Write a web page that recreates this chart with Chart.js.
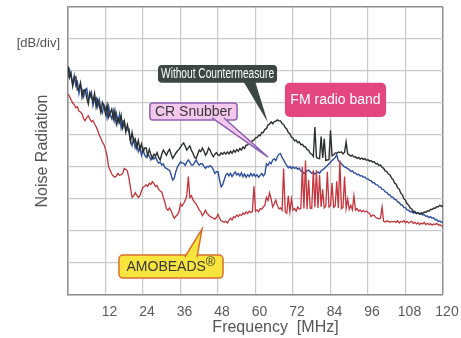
<!DOCTYPE html>
<html>
<head>
<meta charset="utf-8">
<script src="https://cdn.jsdelivr.net/npm/chart.js@4.4.1/dist/chart.umd.min.js"></script>
<style>
  html, body { margin: 0; padding: 0; background: #fff; }
  #wrap { width: 461px; height: 338px; }
</style>
</head>
<body>
<div id="wrap"><canvas id="noiseChart" width="461" height="338"></canvas></div>
<script>
// sample grid, MHz (0.5 MHz steps from 0 to 120)
var freqMHz = [];
for (var i = 0; i <= 240; i++) freqMHz.push(i / 2);

var xTicks = [12, 24, 36, 48, 60, 72, 84, 96, 108, 120];

// levels in divisions (one row = 5 MHz)
var withoutLevel = [
  7.15, 6.79, 6.93, 6.53, 6.77, 6.82, 6.41, 6.45, 6.63, 6.18,
  6.4, 6.42, 6.15, 5.97, 6.33, 6.2, 6.04, 6.3, 5.87, 6.1,
  5.94, 5.71, 6.02, 5.9, 5.66, 5.94, 5.56, 5.69, 5.81, 5.5,
  5.76, 5.34, 5.53, 5.39, 5.62, 5.22, 5.43, 5.09, 5.32, 5.1,
  4.8, 5.08, 4.79, 4.88, 4.6, 4.83, 4.56, 4.72, 4.46, 4.59,
  4.6, 4.35, 4.55, 4.4, 4.27, 4.4, 4.35, 4.45, 4.3, 4.22,
  4.4, 4.53, 4.45, 4.37, 4.48, 4.55, 4.4, 4.27, 4.35, 4.43,
  4.5, 4.55, 4.62, 4.7, 4.75, 4.65, 4.53, 4.6, 4.66, 4.52,
  4.43, 4.3, 4.27, 4.4, 4.53, 4.48, 4.59, 4.5, 4.37, 4.45,
  4.59, 4.52, 4.4, 4.32, 4.4, 4.45, 4.38, 4.36, 4.44, 4.4,
  4.46, 4.4, 4.47, 4.41, 4.49, 4.43, 4.52, 4.46, 4.55, 4.49,
  4.58, 4.53, 4.63, 4.58, 4.68, 4.69, 4.76, 4.72, 4.83, 4.84,
  4.91, 4.92, 4.99, 4.98, 5.08, 5.08, 5.18, 5.2, 5.31, 5.34,
  5.41, 5.35, 5.42, 5.43, 5.47, 5.44, 5.44, 5.36, 5.33, 5.23,
  5.19, 5.08, 5.04, 4.93, 4.9, 4.82, 4.84, 4.76, 4.79, 4.7,
  4.71, 4.64, 4.63, 4.55, 4.52, 4.43, 4.4, 4.33, 5.25, 4.3,
  4.27, 4.26, 4.95, 4.28, 4.88, 4.2, 4.22, 4.23, 5.15, 4.35,
  4.38, 4.44, 4.43, 4.47, 4.45, 4.47, 4.41, 4.46, 4.78, 4.41,
  4.38, 4.34, 4.37, 4.31, 4.32, 4.27, 4.3, 4.25, 4.28, 4.24,
  4.26, 4.21, 4.23, 4.18, 4.2, 4.15, 4.16, 4.1, 4.11, 4.05,
  4.06, 3.99, 3.96, 3.88, 3.86, 3.78, 3.76, 3.66, 3.61, 3.5,
  3.46, 3.35, 3.31, 3.18, 3.13, 3.01, 2.96, 2.85, 2.81, 2.72,
  2.69, 2.61, 2.61, 2.55, 2.57, 2.53, 2.57, 2.55, 2.59, 2.58,
  2.63, 2.62, 2.67, 2.67, 2.71, 2.71, 2.76, 2.76, 2.81, 2.77,
  2.79
];

var snubberLevel = [
  6.8, 7.04, 6.83, 6.58, 6.85, 6.54, 6.66, 6.3, 6.57, 6.42,
  6.2, 6.4, 6.45, 6.12, 6.16, 6.33, 5.92, 6.13, 6.17, 5.88,
  6.11, 5.83, 5.69, 5.94, 5.83, 5.54, 5.89, 5.62, 5.51, 5.75,
  5.44, 5.67, 5.38, 5.64, 5.22, 5.42, 5.45, 5.14, 5.15, 5.18,
  4.82, 4.67, 4.88, 4.6, 4.74, 4.48, 4.61, 4.37, 4.58, 4.38,
  4.3, 4.4, 4.35, 4.22, 4.3, 4.25, 4.32, 4.2, 4.12, 4.15,
  4.06, 4.1, 3.98, 3.96, 3.92, 3.9, 3.75, 3.59, 3.65, 3.85,
  4.0, 4.08, 4.16, 4.12, 4.12, 4.05, 4.15, 4.22, 4.15, 4.06,
  4.06, 4.14, 4.22, 4.12, 4.06, 4.1, 4.1, 4.02, 3.96, 4.02,
  4.0, 4.04, 4.0, 3.92, 3.8, 3.85, 3.85, 3.6, 3.38, 3.45,
  3.6, 3.75, 3.8, 3.72, 3.8, 3.7, 3.78, 3.85, 3.75, 3.8,
  3.72, 3.82, 3.7, 3.78, 3.68, 3.76, 3.7, 3.8, 3.72, 3.78,
  3.7, 3.76, 3.68, 3.74, 3.8, 3.72, 3.78, 4.1, 4.05, 4.15,
  4.1, 4.22, 4.25, 4.2, 4.32, 4.4, 4.42, 4.3, 4.22, 4.12,
  4.05, 3.97, 4.02, 3.95, 4.0, 3.96, 3.99, 3.93, 3.97, 3.88,
  3.85, 3.8, 3.82, 3.88, 3.9, 3.85, 3.8, 3.83, 3.78, 3.82,
  3.85, 3.8, 3.88, 3.92, 3.95, 4.0, 4.05, 4.1, 4.15, 4.2,
  4.25, 4.3, 4.38, 4.2, 4.15, 4.1, 4.05, 4.0, 3.98, 3.95,
  3.92, 3.86, 3.88, 3.82, 3.81, 3.76, 3.77, 3.72, 3.73, 3.68,
  3.69, 3.63, 3.63, 3.58, 3.57, 3.51, 3.51, 3.45, 3.44, 3.38,
  3.37, 3.31, 3.29, 3.22, 3.21, 3.14, 3.13, 3.06, 3.06, 2.98,
  2.98, 2.91, 2.89, 2.82, 2.81, 2.73, 2.73, 2.66, 2.65, 2.6,
  2.61, 2.56, 2.58, 2.54, 2.57, 2.53, 2.54, 2.5, 2.51, 2.46,
  2.47, 2.42, 2.45, 2.4, 2.41, 2.35, 2.36, 2.3, 2.31, 2.27,
  2.27
];

var amobeadsLevel = [
  6.28, 6.2, 6.1, 6.0, 5.95, 5.85, 5.88, 5.75, 5.72, 5.66,
  5.5, 5.45, 5.55, 5.6, 5.5, 5.42, 5.45, 5.35, 5.26, 5.15,
  5.0, 4.9, 4.78, 4.7, 4.55, 4.35, 4.0, 3.9, 3.78, 3.72,
  3.68, 3.72, 3.8, 3.74, 3.76, 3.8, 3.95, 3.92, 3.88, 3.65,
  3.35, 3.05, 3.1, 3.2, 3.12, 3.05, 3.1, 3.25, 3.36, 3.4,
  3.44, 3.4, 3.49, 3.45, 3.54, 3.48, 3.39, 3.42, 3.3, 3.25,
  3.22, 3.05, 2.9, 2.7, 2.65, 2.72, 2.63, 2.5, 2.4, 2.46,
  2.5, 2.6, 2.85, 2.78, 2.86, 2.95, 3.1, 3.7, 3.05, 3.1,
  2.97, 2.9, 2.84, 2.75, 2.66, 2.6, 2.48, 2.55, 2.65, 2.55,
  2.5, 2.45, 2.43, 2.4, 2.37, 2.42, 2.52, 2.4, 2.32, 2.3,
  2.27, 2.3, 2.25, 2.33, 2.4, 2.35, 2.45, 2.42, 2.5, 2.45,
  2.52, 2.48, 2.56, 2.52, 2.6, 2.55, 2.62, 2.58, 2.6, 3.4,
  2.62, 2.66, 2.6, 2.7, 2.68, 2.75, 2.8, 3.05, 2.95, 3.19,
  3.0, 2.75, 2.85, 2.97, 2.8, 2.69, 2.72, 2.65, 3.95, 2.6,
  2.55, 3.1, 2.6, 3.0, 2.65, 2.7, 2.62, 2.75, 2.68, 2.7,
  4.0, 2.7, 4.2, 2.68, 3.6, 2.72, 2.7, 3.9, 2.74, 3.9,
  2.72, 3.75, 2.75, 3.3, 2.72, 2.78, 3.85, 2.75, 2.8, 3.5,
  2.74, 2.78, 3.55, 2.72, 4.2, 2.7, 2.74, 3.7, 2.7, 3.0,
  2.68, 2.8, 2.66, 3.1, 2.65, 2.7, 2.62, 2.66, 2.6, 2.64,
  2.6, 2.62, 2.58, 2.55, 2.45, 2.5, 2.48, 2.42, 2.4, 2.38,
  2.4, 2.75, 2.3, 2.28, 2.32, 2.3, 2.27, 2.3, 2.28, 2.3,
  2.27, 2.32, 2.25, 2.3, 2.28, 2.33, 2.26, 2.3, 2.25, 2.28,
  2.3, 2.24, 2.27, 2.22, 2.26, 2.2, 2.25, 2.22, 2.27, 2.2,
  2.24, 2.2, 2.23, 2.18, 2.22, 2.2, 2.24, 2.18, 2.2, 2.16,
  2.15
];

function toPoints(levels) {
  return levels.map(function(v, i){ return {x: freqMHz[i], y: v}; });
}

var FONT = '"Liberation Sans", Arial, sans-serif';
var GRID = '#c9c9c9';
var EDGE = '#8e8e8e';

// callout boxes, positions in axis units (MHz, div); fit = squeeze text to this width
var callouts = [
  {text: 'Without Countermeasure', box: [28.8, 66.9, 7.19, 6.63], ptr: [56, 59.8, 64, 5.38], side: 'bottom',
   fill: '#3c4642', stroke: null, color: '#ffffff', font: '14px ' + FONT, r: 4, fit: 113},
  {text: 'CR Snubber', box: [26.2, 54.1, 6.0, 5.47], ptr: [46.1, 49.9, 64, 4.31], side: 'bottom',
   fill: '#f4c8ec', stroke: '#8d62b4', color: '#383838', font: '14px ' + FONT, r: 3},
  {text: 'FM radio band', box: [69.4, 101.8, 6.63, 5.56], ptr: null,
   fill: '#e4467f', stroke: null, color: '#ffffff', font: '14px ' + FONT, r: 5},
  {text: 'AMOBEADS', sup: '\u00AE', box: [16.3, 49.6, 1.25, 0.53], ptr: [37.4, 41.3, 42.9, 2.06], side: 'top',
   fill: '#f7e53e', stroke: '#d9702f', color: '#383838', font: '14px ' + FONT, r: 4}
];

var calloutPlugin = {
  id: 'callouts',
  afterDraw: function(chart) {
    var ctx = chart.ctx, xs = chart.scales.x, ys = chart.scales.y, area = chart.chartArea;
    callouts.forEach(function(c){
      var x1 = xs.getPixelForValue(c.box[0]), x2 = xs.getPixelForValue(c.box[1]);
      var y1 = ys.getPixelForValue(c.box[2]), y2 = ys.getPixelForValue(c.box[3]);
      ctx.save();
      ctx.fillStyle = c.fill;
      ctx.strokeStyle = c.stroke || c.fill;
      ctx.lineWidth = 1.5;
      ctx.beginPath();
      ctx.roundRect(x1, y1, x2 - x1, y2 - y1, c.r);
      ctx.fill();
      if (c.stroke) ctx.stroke();
      if (c.ptr) {
        var baseY = c.side === 'bottom' ? y2 - 2 : y1 + 2;
        ctx.beginPath();
        ctx.moveTo(xs.getPixelForValue(c.ptr[0]), baseY);
        ctx.lineTo(xs.getPixelForValue(c.ptr[2]), ys.getPixelForValue(c.ptr[3]));
        ctx.lineTo(xs.getPixelForValue(c.ptr[1]), baseY);
        ctx.fill();
        if (c.stroke) ctx.stroke();
      }
      ctx.fillStyle = c.color;
      ctx.font = c.font;
      ctx.textBaseline = 'middle';
      var cx = (x1 + x2) / 2, cy = (y1 + y2) / 2 + 0.5;
      if (c.sup) {
        var w1 = ctx.measureText(c.text).width;
        ctx.font = '13px ' + FONT;
        var w2 = ctx.measureText(c.sup).width;
        var sx = cx - (w1 + w2) / 2;
        ctx.textAlign = 'left';
        ctx.fillText(c.sup, sx + w1, cy - 5);
        ctx.font = c.font;
        ctx.fillText(c.text, sx, cy);
      } else if (c.fit) {
        var w = ctx.measureText(c.text).width;
        var k = Math.min(1, c.fit / w);
        ctx.translate(cx, cy);
        ctx.scale(k, 1);
        ctx.textAlign = 'center';
        ctx.fillText(c.text, 0, 0);
      } else {
        ctx.textAlign = 'center';
        ctx.fillText(c.text, cx, cy);
      }
      ctx.restore();
    });
    // x axis title
    ctx.save();
    ctx.font = '16px ' + FONT;
    ctx.fillStyle = '#555555';
    ctx.textAlign = 'center';
    ctx.textBaseline = 'middle';
    ctx.fillText('Frequency  [MHz]', (area.left + area.right) / 2 + 20, area.bottom + 33);
    ctx.restore();
  }
};

Chart.defaults.font.family = FONT;

var noiseChart = new Chart(document.getElementById('noiseChart'), {
  type: 'line',
  data: {
    datasets: [{
      label: 'AMOBEADS',
      data: toPoints(amobeadsLevel),
      borderColor: '#c4343b',
      borderWidth: 1.3,
      order: 0
    }, {
      label: 'Without Countermeasure',
      data: toPoints(withoutLevel),
      borderColor: '#2b302e',
      borderWidth: 1.4,
      order: 1
    }, {
      label: 'CR Snubber',
      data: toPoints(snubberLevel),
      borderColor: '#2c4f9e',
      borderWidth: 1.4,
      order: 2
    }]
  },
  options: {
    responsive: false,
    animation: false,
    events: [],
    layout: { padding: { top: 7, right: 18, left: 0, bottom: 0 } },
    elements: { point: { radius: 0 }, line: { tension: 0 } },
    plugins: { legend: { display: false }, tooltip: { enabled: false } },
    scales: {
      x: {
        type: 'linear',
        min: 0,
        max: 120,
        afterFit: function(scale){
          scale.height = 43;
          scale.paddingLeft = 0;
          scale.paddingRight = 0;
        },
        afterBuildTicks: function(scale){
          scale.ticks = [0].concat(xTicks).map(function(v){ return {value: v}; });
        },
        ticks: {
          autoSkip: false,
          maxRotation: 0,
          padding: 9,
          labelOffset: 4,
          color: '#5a5a5a',
          font: { size: 14 },
          callback: function(v){ return v === 0 ? '' : v; }
        },
        grid: {
          drawTicks: false,
          color: function(c){ return c.tick && c.tick.value === 120 ? EDGE : GRID; },
          lineWidth: function(c){ return c.tick && c.tick.value === 120 ? 1.5 : 1.2; }
        },
        border: { color: EDGE, width: 1.5 }
      },
      y: {
        min: 0,
        max: 9,
        afterFit: function(scale){
          scale.width = 68;
          scale.paddingTop = 0;
          scale.paddingBottom = 0;
        },
        ticks: {
          stepSize: 1,
          padding: 8,
          labelOffset: 4,
          color: '#555555',
          font: { size: 13 },
          callback: function(v){ return v === 8 ? '[dB/div]' : ''; }
        },
        grid: {
          drawTicks: false,
          color: function(c){ return c.tick && c.tick.value === 9 ? EDGE : GRID; },
          lineWidth: function(c){ return c.tick && c.tick.value === 9 ? 1.5 : 1.2; }
        },
        border: { color: EDGE, width: 1.5 },
        title: {
          display: true,
          text: 'Noise Radiation',
          color: '#555555',
          font: { size: 16 },
          padding: { top: 33, bottom: 0 }
        }
      }
    }
  },
  plugins: [calloutPlugin]
});
</script>
</body>
</html>
